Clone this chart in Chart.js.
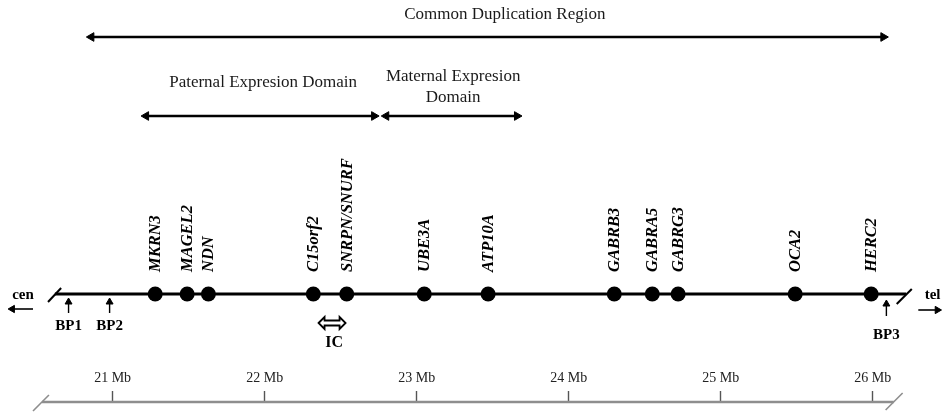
<!DOCTYPE html>
<html>
<head>
<meta charset="utf-8">
<script src="https://cdn.jsdelivr.net/npm/chart.js@4.4.1/dist/chart.umd.min.js"></script>
<style>
  html, body { margin: 0; padding: 0; background: #ffffff; }
  #wrap { width: 944px; height: 412px; }
</style>
</head>
<body>
<div id="wrap"><canvas id="map" width="944" height="412"></canvas></div>
<script>
// Genes of the 15q11-q13 interval and their positions (Mb)
const geneNames = ['MKRN3', 'MAGEL2', 'NDN', 'C15orf2', 'SNRPN/SNURF', 'UBE3A', 'ATP10A',
                   'GABRB3', 'GABRA5', 'GABRG3', 'OCA2', 'HERC2'];
const genePositions = [21.28, 21.49, 21.63, 22.32, 22.54, 23.05, 23.47, 24.30, 24.55, 24.72, 25.49, 25.99];

// Recurrent breakpoints (Mb)
const bpNames = ['BP1', 'BP2', 'BP3'];
const bpPositions = [20.71, 20.98, 26.09];

// Regions drawn as double-headed arrows (Mb)
const regionLabels = [['Common Duplication Region'], ['Paternal Expresion Domain'], ['Maternal Expresion', 'Domain']];
const regionStarts = [20.86, 21.22, 22.80];
const regionEnds = [26.07, 22.72, 23.66];
const regionLabelCenters = [23.58, 21.99, 23.24];

// Imprinting centre
const icLabel = 'IC';
const icPosition = 22.45;

// Chromosome segment shown and the Mb ruler
const chromosomeStart = 20.62;
const chromosomeEnd = 26.22;
const mbTicks = [21, 22, 23, 24, 25, 26];
const rulerStart = 20.535;
const rulerEnd = 26.138;
const viewStart = 20.259;
const viewEnd = 26.469;

// Vertical lanes of the drawing (y scale runs top-down)
const lane = {
  regionTitle: 15, regionArrow: 37,
  domainTitle: 83, domainArrow: 116,
  geneLabel: 272, chromosome: 294,
  bpHead: 302, bpTail: 313, bpLabel: 326,
  bp3Head: 304, bp3Tail: 316, bp3Label: 335,
  icArrow: 323, icLabel: 343,
  endLabel: 295, endArrow: 309,
  ruler: 402
};

const INK = '#000000';
const RULER = '#8e8e8e';
const SERIF = '"Liberation Serif", "Times New Roman", serif';

function segment(points, extra) {
  return Object.assign({
    type: 'scatter', showLine: true, data: points,
    borderColor: INK, backgroundColor: INK, borderWidth: 2,
    pointRadius: 0, pointHoverRadius: 0, pointBorderWidth: 1,
    pointBorderColor: INK, pointBackgroundColor: INK, clip: false
  }, extra || {});
}

function doubleArrow(x1, x2, y) {
  return segment([{x: x1, y: y}, {x: x2, y: y}], {
    borderWidth: 2.4, pointStyle: 'triangle', pointRadius: 5, pointRotation: [-90, 90]
  });
}

const datasets = [];

// Mb ruler line and its broken ends
datasets.push(segment([{x: rulerStart, y: lane.ruler}, {x: rulerEnd, y: lane.ruler}], {borderWidth: 2.4, borderColor: RULER}));
datasets.push(segment([{x: 20.476, y: 411}, {x: 20.581, y: 395}], {borderWidth: 1.6, borderColor: RULER}));
datasets.push(segment([{x: 26.085, y: 410}, {x: 26.197, y: 393}], {borderWidth: 1.6, borderColor: RULER}));

// chromosome backbone and its broken ends
datasets.push(segment([{x: chromosomeStart, y: lane.chromosome}, {x: chromosomeEnd, y: lane.chromosome}], {borderWidth: 3}));
datasets.push(segment([{x: 20.575, y: 302}, {x: 20.661, y: 288}], {borderWidth: 2}));
datasets.push(segment([{x: 26.158, y: 304}, {x: 26.257, y: 289}], {borderWidth: 2}));

// region arrows
datasets.push(doubleArrow(regionStarts[0], regionEnds[0], lane.regionArrow));
datasets.push(doubleArrow(regionStarts[1], regionEnds[1], lane.domainArrow));
datasets.push(doubleArrow(regionStarts[2], regionEnds[2], lane.domainArrow));

// centromere / telomere direction arrows
datasets.push(segment([{x: 20.34, y: lane.endArrow}, {x: 20.476, y: lane.endArrow}], {
  borderWidth: 1.6, pointStyle: 'triangle', pointRadius: [4.2, 0], pointRotation: -90
}));
datasets.push(segment([{x: 26.30, y: lane.endArrow + 1}, {x: 26.425, y: lane.endArrow + 1}], {
  borderWidth: 1.6, pointStyle: 'triangle', pointRadius: [0, 4.2], pointRotation: 90
}));

// breakpoint arrows
bpPositions.forEach((p, i) => {
  const head = i === 2 ? lane.bp3Head : lane.bpHead;
  const tail = i === 2 ? lane.bp3Tail : lane.bpTail;
  datasets.push(segment([{x: p, y: head}, {x: p, y: tail}], {
    borderWidth: 1.4, pointStyle: 'triangle', pointRadius: [4, 0], pointRotation: 0
  }));
});

// genes
const GENE_DS = datasets.length;
datasets.push({
  type: 'scatter', label: 'genes',
  data: genePositions.map(p => ({x: p, y: lane.chromosome})),
  pointRadius: 7.5, pointHoverRadius: 7.5, pointStyle: 'circle',
  backgroundColor: INK, borderColor: INK, borderWidth: 0, clip: false
});

// text and the hollow IC arrow
const annotations = {
  id: 'annotations',
  afterDatasetsDraw(chart) {
    const {ctx, scales: {x, y}} = chart;
    ctx.save();

    // region titles
    ctx.font = '17px ' + SERIF;
    ctx.fillStyle = '#1a1a1a';
    ctx.textAlign = 'center';
    ctx.textBaseline = 'middle';
    const titleLanes = [[lane.regionTitle], [lane.domainTitle], [77, 98]];
    regionLabels.forEach((lines, i) => {
      lines.forEach((t, j) => {
        ctx.fillText(t, x.getPixelForValue(regionLabelCenters[i]), y.getPixelForValue(titleLanes[i][j]));
      });
    });

    // gene names, written upwards above each gene
    ctx.fillStyle = INK;
    ctx.font = 'italic bold 16.5px ' + SERIF;
    ctx.textAlign = 'left';
    ctx.textBaseline = 'middle';
    const meta = chart.getDatasetMeta(GENE_DS);
    meta.data.forEach((pt, i) => {
      ctx.save();
      ctx.translate(pt.x + 0.5, y.getPixelForValue(lane.geneLabel));
      ctx.rotate(-Math.PI / 2);
      ctx.fillText(geneNames[i], 0, 0);
      ctx.restore();
    });

    // breakpoint labels
    ctx.font = 'bold 15px ' + SERIF;
    ctx.textAlign = 'center';
    bpNames.forEach((t, i) => {
      const ly = i === 2 ? lane.bp3Label : lane.bpLabel;
      ctx.fillText(t, x.getPixelForValue(bpPositions[i]), y.getPixelForValue(ly));
    });

    // cen / tel
    ctx.fillText('cen', x.getPixelForValue(20.41), y.getPixelForValue(lane.endLabel));
    ctx.fillText('tel', x.getPixelForValue(26.394), y.getPixelForValue(lane.endLabel));

    // imprinting centre: hollow double arrow and label
    const cx = x.getPixelForValue(icPosition) - 1;
    const cy = y.getPixelForValue(lane.icArrow);
    const pts = [[-13.5, 0], [-7.5, -6], [-7.5, -2.5], [7.5, -2.5], [7.5, -6], [13.5, 0],
                 [7.5, 6], [7.5, 2.5], [-7.5, 2.5], [-7.5, 6]];
    ctx.beginPath();
    pts.forEach((p, k) => k ? ctx.lineTo(cx + p[0], cy + p[1]) : ctx.moveTo(cx + p[0], cy + p[1]));
    ctx.closePath();
    ctx.fillStyle = '#ffffff';
    ctx.fill();
    ctx.lineWidth = 1.8;
    ctx.strokeStyle = INK;
    ctx.lineJoin = 'miter';
    ctx.stroke();
    ctx.fillStyle = INK;
    ctx.font = 'bold 16px ' + SERIF;
    ctx.fillText(icLabel, x.getPixelForValue(icPosition) + 1, y.getPixelForValue(lane.icLabel));
    ctx.restore();
  }
};

new Chart(document.getElementById('map'), {
  type: 'scatter',
  data: {datasets: datasets},
  plugins: [annotations],
  options: {
    responsive: false,
    animation: false,
    events: [],
    layout: {autoPadding: false, padding: 0},
    plugins: {legend: {display: false}, tooltip: {enabled: false}},
    scales: {
      x: {
        type: 'linear',
        min: viewStart,
        max: viewEnd,
        position: {y: lane.ruler},
        afterBuildTicks: scale => { scale.ticks = mbTicks.map(v => ({value: v})); },
        grid: {display: true, drawOnChartArea: false, drawTicks: true, tickLength: -11,
               tickColor: '#555555', tickWidth: 1.4},
        border: {display: false},
        ticks: {
          padding: -21,
          autoSkip: false,
          maxRotation: 0,
          color: '#222222',
          font: {family: SERIF, size: 14},
          callback: v => v + ' Mb'
        }
      },
      y: {
        type: 'linear', display: false, reverse: true, min: 0, max: 412
      }
    }
  }
});
</script>
</body>
</html>
